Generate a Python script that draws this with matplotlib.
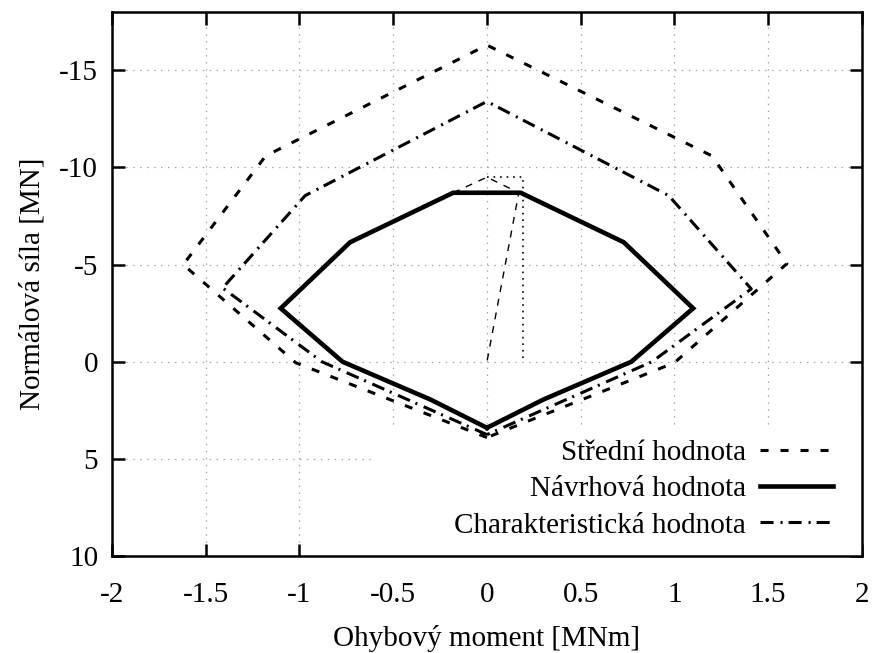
import matplotlib
matplotlib.use("Agg")
import matplotlib.pyplot as plt
from matplotlib.patches import Rectangle

plt.rcParams["font.family"] = ["Liberation Serif", "DejaVu Serif"]
plt.rcParams["axes.unicode_minus"] = False
plt.rcParams["lines.scale_dashes"] = False

# Interaction diagram points: bending moment [MNm] vs normal force [MN]
stredni_m = [0.0, -1.02, -1.62, -1.18, 0.0, 1.2, 1.6, 1.0, 0.0]
stredni_n = [3.9, 0.05, -5.0, -10.6, -16.3, -10.6, -5.05, 0.05, 3.9]

navrh_m = [0.0, -0.30, -0.77, -1.10, -0.73, -0.18, 0.18, 0.73, 1.10, 0.77, 0.30, 0.0]
navrh_n = [3.4, 1.95, 0.0, -2.75, -6.15, -8.7, -8.7, -6.15, -2.75, 0.0, 1.95, 3.4]

charakt_m = [0.0, -0.88, -1.41, -0.97, 0.0, 0.97, 1.41, 0.88, 0.0]
charakt_n = [3.75, 0.0, -3.8, -8.55, -13.4, -8.55, -3.75, 0.0, 3.75]

# thin helper lines near the top of the design curve
aux_dash_m = [-0.18, 0.0, 0.17, 0.0]
aux_dash_n = [-8.7, -9.5, -8.7, 0.0]
aux_dot_m = [0.0, 0.19, 0.19]
aux_dot_n = [-9.5, -9.5, 0.0]

x_ticks = [-2, -1.5, -1, -0.5, 0, 0.5, 1, 1.5, 2]
x_labels = ["-2", "-1.5", "-1", "-0.5", "0", "0.5", "1", "1.5", "2"]
y_ticks = [-15, -10, -5, 0, 5, 10]
y_labels = ["-15", "-10", "-5", "0", "5", "10"]

FS = 21

fig = plt.figure(figsize=(8.75, 6.53), dpi=100)
ax = fig.add_axes([0.128, 0.1485, 0.857, 0.833])

ax.plot(aux_dash_m, aux_dash_n, color="black", lw=1.0, ls=(0, (5, 5)))
ax.plot(aux_dot_m, aux_dot_n, color="black", lw=1.2, ls=(0, (1.2, 3.5)))

ax.plot(stredni_m, stredni_n, color="black", lw=2.2, ls=(0, (5.8, 8.6)),
        label="Střední hodnota")
ax.plot(navrh_m, navrh_n, color="black", lw=3.3, solid_joinstyle="miter",
        label="Návrhová hodnota")
ax.plot(charakt_m, charakt_n, color="black", lw=2.2, ls=(0, (9.4, 5, 1.5, 4.3)),
        label="Charakteristická hodnota")

ax.set_xlim(-2, 2)
ax.set_ylim(10, -18)
ax.set_xticks(x_ticks)
ax.set_xticklabels(x_labels)
ax.set_yticks(y_ticks)
ax.set_yticklabels(y_labels)
ax.tick_params(direction="in", length=9, width=1.8, labelsize=FS,
               top=True, right=True, pad=10)
ax.tick_params(axis="x", pad=19)
for s in ax.spines.values():
    s.set_linewidth(1.8)

ax.grid(True, color="#a0a0a0", lw=0.9, ls=(0, (1, 4)))
ax.set_axisbelow(True)

# opaque key area: hides the grid but stays under the curves
ax.add_patch(Rectangle((0.347, 0.0), 0.653, 0.235, transform=ax.transAxes,
                       facecolor="white", edgecolor="none", zorder=1))

ax.set_xlabel("Ohybový moment [MNm]", fontsize=FS, labelpad=12)
ax.set_ylabel("Normálová síla [MN]", fontsize=FS, labelpad=10)

leg = ax.legend(loc="lower right", bbox_to_anchor=(0.985, 0.0),
                markerfirst=False, fontsize=FS, handlelength=2.5,
                handletextpad=0.5, labelspacing=0.34, borderpad=0.1,
                frameon=False)

fig.savefig("out.png", dpi=100)
